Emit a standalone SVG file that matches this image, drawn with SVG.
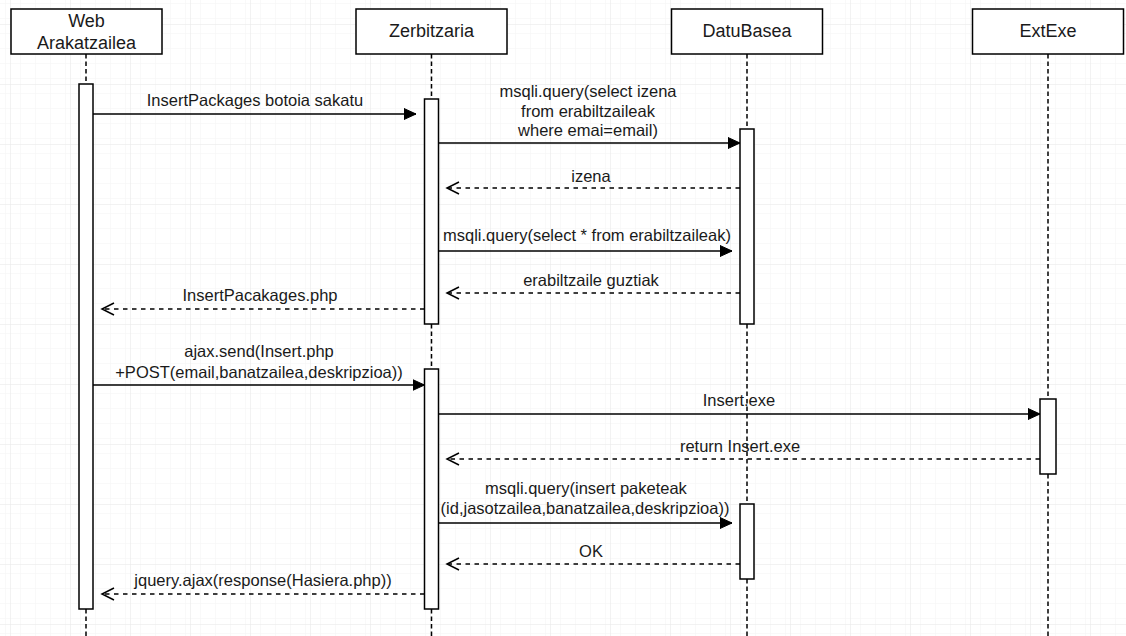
<svg xmlns="http://www.w3.org/2000/svg" width="1126" height="636" viewBox="0 0 1126 636">
  <defs>
    <pattern id="gridMinor" width="15" height="15" patternUnits="userSpaceOnUse" x="10" y="24">
      <path d="M0 0H15M0 0V15" fill="none" stroke="#f3f3f3" stroke-width="1"/>
    </pattern>
    <pattern id="gridMajor" width="60" height="60" patternUnits="userSpaceOnUse" x="10" y="24">
      <rect width="60" height="60" fill="url(#gridMinor)"/>
      <path d="M0 0H60M0 0V60" fill="none" stroke="#e6e6e6" stroke-width="1"/>
    </pattern>
    <marker id="solidHead" markerUnits="userSpaceOnUse" markerWidth="14" markerHeight="14" refX="12" refY="6" orient="auto">
      <path d="M0 0.5L12 6L0 11.5Z" fill="#000" stroke="#000" stroke-width="1"/>
    </marker>
    <marker id="openHead" markerUnits="userSpaceOnUse" markerWidth="16" markerHeight="16" refX="13" refY="7" orient="auto">
      <path d="M1 1L13 7L1 13" fill="none" stroke="#000" stroke-width="1.5"/>
    </marker>
  </defs>
  <style>
    .head { fill: #fff; stroke: #000; stroke-width: 1.5; }
    .bar { fill: #fff; stroke: #000; stroke-width: 1.5; }
    .life { stroke: #000; stroke-width: 1.5; stroke-dasharray: 4.5 3; fill: none; }
    .call { stroke: #000; stroke-width: 1.5; fill: none; marker-end: url(#solidHead); }
    .ret { stroke: #000; stroke-width: 1.5; fill: none; stroke-dasharray: 4.5 4.5; marker-end: url(#openHead); }
    text { font-family: "Liberation Sans", Arial, sans-serif; fill: #1a1a1a; text-anchor: middle; }
    .title { font-size: 18px; }
    .msg { font-size: 16.5px; }
  </style>

  <!-- background grid -->
  <rect width="1126" height="636" fill="#fff"/>
  <rect width="1126" height="636" fill="url(#gridMajor)"/>

  <!-- participants: header, lifeline, activation bars -->
  <g id="web">
    <rect class="head" x="11" y="9" width="151" height="45"/>
    <text class="title" x="86.5" y="26.5">Web</text>
    <text class="title" x="86.5" y="49">Arakatzailea</text>
    <line class="life" x1="86" y1="54" x2="86" y2="636"/>
    <rect class="bar" x="79" y="84" width="14" height="525"/>
  </g>

  <g id="zerbitzaria">
    <rect class="head" x="356" y="9" width="151" height="45"/>
    <text class="title" x="431.5" y="37">Zerbitzaria</text>
    <line class="life" x1="431.5" y1="54" x2="431.5" y2="636"/>
    <rect class="bar" x="424.5" y="99" width="14" height="225"/>
    <rect class="bar" x="424.5" y="369" width="14" height="240"/>
  </g>

  <g id="datubasea">
    <rect class="head" x="671.5" y="9" width="151" height="45"/>
    <text class="title" x="747" y="37">DatuBasea</text>
    <line class="life" x1="747" y1="54" x2="747" y2="636"/>
    <rect class="bar" x="740" y="129" width="14" height="195"/>
    <rect class="bar" x="740" y="504" width="14" height="75"/>
  </g>

  <g id="extexe">
    <rect class="head" x="972.5" y="9" width="151" height="45"/>
    <text class="title" x="1048" y="37">ExtExe</text>
    <line class="life" x1="1048" y1="54" x2="1048" y2="636"/>
    <rect class="bar" x="1040" y="399" width="16" height="75"/>
  </g>

  <!-- messages -->
  <g id="connectors">
    <line class="call" x1="93" y1="114" x2="416" y2="114"/>
    <text class="msg" x="255" y="106">InsertPackages botoia sakatu</text>

    <line class="call" x1="438.5" y1="143" x2="740" y2="143"/>
    <text class="msg" x="588" y="97">msqli.query(select izena</text>
    <text class="msg" x="588" y="117">from erabiltzaileak</text>
    <text class="msg" x="588" y="136">where emai=email)</text>

    <line class="ret" x1="740" y1="188" x2="447" y2="188"/>
    <text class="msg" x="591" y="182">izena</text>

    <line class="call" x1="438.5" y1="251" x2="732" y2="251"/>
    <text class="msg" x="587" y="241">msqli.query(select * from erabiltzaileak)</text>

    <line class="ret" x1="740" y1="293" x2="447" y2="293"/>
    <text class="msg" x="591" y="286">erabiltzaile guztiak</text>

    <line class="ret" x1="424.5" y1="309" x2="102" y2="309"/>
    <text class="msg" x="260" y="301">InsertPacakages.php</text>

    <line class="call" x1="93" y1="385" x2="424.5" y2="385"/>
    <text class="msg" x="259" y="357">ajax.send(Insert.php</text>
    <text class="msg" x="259" y="378">+POST(email,banatzailea,deskripzioa))</text>

    <line class="call" x1="438.5" y1="414" x2="1040" y2="414"/>
    <text class="msg" x="739" y="406">Insert.exe</text>

    <line class="ret" x1="1040" y1="459" x2="447" y2="459"/>
    <text class="msg" x="740" y="452">return Insert.exe</text>

    <line class="call" x1="438.5" y1="523" x2="732" y2="523"/>
    <text class="msg" x="586" y="494">msqli.query(insert paketeak</text>
    <text class="msg" x="585" y="514">(id,jasotzailea,banatzailea,deskripzioa))</text>

    <line class="ret" x1="740" y1="564" x2="447" y2="564"/>
    <text class="msg" x="591" y="557">OK</text>

    <line class="ret" x1="424.5" y1="594" x2="102" y2="594"/>
    <text class="msg" x="263" y="586">jquery.ajax(response(Hasiera.php))</text>
  </g>
</svg>
